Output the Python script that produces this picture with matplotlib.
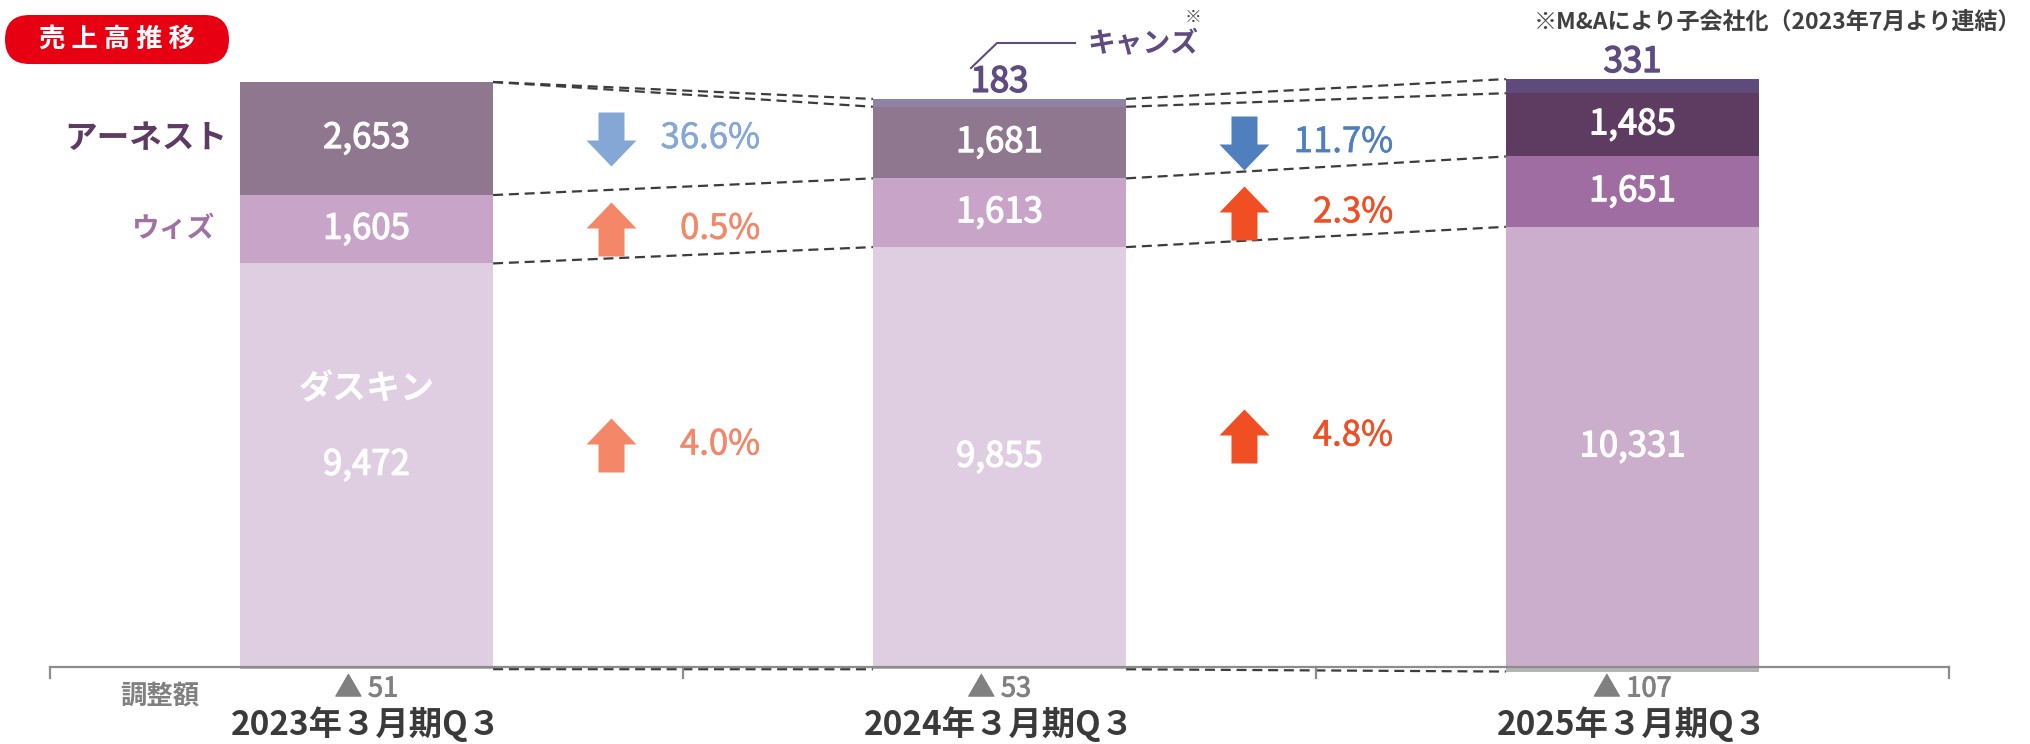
import numpy as np
import matplotlib
matplotlib.use("Agg")
import matplotlib.pyplot as plt
import matplotlib.patheffects as pe
from matplotlib.path import Path
from matplotlib.patches import FancyBboxPatch

plt.rcParams['font.family'] = ['Noto Sans CJK JP', 'DejaVu Sans']

# data
periods = ['2023年３月期Q３', '2024年３月期Q３', '2025年３月期Q３']
duskin = [9472, 9855, 10331]
wiz = [1605, 1613, 1651]
arnest = [2653, 1681, 1485]
canz = [0, 183, 331]
adjust = [-51, -53, -107]
adj_labels = ['▲ 51', '▲ 53', '▲ 107']

arnest_growth = ['36.6%', '11.7%']
wiz_growth = ['0.5%', '2.3%']
duskin_growth = ['4.0%', '4.8%']
arnest_dir = ['down', 'down']
wiz_dir = ['up', 'up']
duskin_dir = ['up', 'up']

# styles
duskin_col = ['#DFCEE2', '#DFCEE2', '#CBAECC']
wiz_col = ['#C8A5C8', '#C8A5C8', '#A06DA3']
arnest_col = ['#8E778F', '#8E778F', '#5E3C62']
canz_col = ['#8E82A5', '#8E82A5', '#5F4A7C']
adj_col = '#B3B3B3'
down_col = ['#84A7D5', '#4F80BD']
up_col = ['#F48768', '#F04E23']

W, H = 2031, 744
fig = plt.figure(figsize=(W / 100, H / 100), dpi=100)
ax = fig.add_axes([0, 0, 1, 1])
unit = 633.0
ax.set_xlim(-0.5 - 50 / unit, 2.5 + (W - 1949) / unit)
ppu = 585.0 / 13730
ax.set_ylim(-(H - 667) / ppu, -(H - 667) / ppu + H / ppu)
ax.axis('off')


def px(x, y):
    # figure pixel (from top-left) -> inches for dpi_scale_trans
    return x / 100, (H - y) / 100


def medium(c, w=0.9):
    # regular face thickened a little, close to a medium weight
    return [pe.withStroke(linewidth=w, foreground=c)]


x = np.arange(len(periods))
bw = 0.40
duskin = np.array(duskin)
wiz = np.array(wiz)
arnest = np.array(arnest)
canz = np.array(canz)
adjust = np.array(adjust)

ax.bar(x, adjust, bw, color=adj_col, zorder=2)
ax.bar(x, duskin, bw, color=duskin_col, zorder=2)
ax.bar(x, wiz, bw, bottom=duskin, color=wiz_col, zorder=2)
ax.bar(x, arnest, bw, bottom=duskin + wiz, color=arnest_col, zorder=2)
ax.bar(x, canz, bw, bottom=duskin + wiz + arnest, color=canz_col, zorder=2)

# baseline and boundary ticks
ax.plot([-0.5, 2.5], [0, 0], color='#8C8C8C', lw=1.6, zorder=3)
tick_len = 11 / ppu
for b in np.arange(-0.5, 3.0, 1.0):
    ax.plot([b, b], [0, -tick_len], color='#8C8C8C', lw=1.6, zorder=3)

# dashed connectors
levels = [adjust, duskin, duskin + wiz, duskin + wiz + arnest, duskin + wiz + arnest + canz]
for i in range(len(periods) - 1):
    for lv in levels:
        ax.plot([i + bw / 2, i + 1 - bw / 2], [lv[i], lv[i + 1]], color='#3C3C3C',
                lw=1.6, dashes=(4.5, 2.6), zorder=1)

# value labels in bars
num_kw = dict(ha='center', va='center', color='white', fontsize=25, zorder=4,
              path_effects=medium('white'))
for i in range(len(periods)):
    ax.text(x[i], duskin[i] / 2, f'{duskin[i]:,}', **num_kw)
    ax.text(x[i], duskin[i] + wiz[i] / 2, f'{wiz[i]:,}', **num_kw)
    ax.text(x[i], duskin[i] + wiz[i] + arnest[i] / 2, f'{arnest[i]:,}', **num_kw)
    if canz[i] > 0:
        top = duskin[i] + wiz[i] + arnest[i] + canz[i]
        ax.annotate(f'{canz[i]:,}', (x[i], top), xytext=(0, 12), textcoords='offset points',
                    ha='center', va='center', color='#5F4B80', fontsize=25,
                    path_effects=medium('#5F4B80', 1.1))
    ax.text(x[i], -22 / ppu, adj_labels[i], ha='center', va='center', color='#808080', fontsize=19.5,
            path_effects=medium('#808080', 0.7))
    ax.text(x[i], -57 / ppu, periods[i], ha='center', va='center', color='#3A3A3A',
            fontsize=24, fontweight='bold')

ax.text(x[0], duskin[0] / 2 + 1800, 'ダスキン', ha='center', va='center', color='white',
        fontsize=24.5, fontweight='bold')

# segment names on the left
ax.text(-0.5 + 177 / unit, duskin[0] + wiz[0] + arnest[0] / 2, 'アーネスト', ha='right', va='center',
        color='#5E3B62', fontsize=23.5, fontweight='bold')
ax.text(-0.5 + 165 / unit, duskin[0] + wiz[0] / 2, 'ウィズ', ha='right', va='center',
        color='#9F71A5', fontsize=20, fontweight='bold')
fig.text(*px(160, 696), '調整額', transform=fig.dpi_scale_trans, ha='center', va='center',
         color='#808080', fontsize=19, fontweight='bold')

# arrows
arrow_up = Path([(-0.26, -0.54), (0.26, -0.54), (0.26, 0.02), (0.5, 0.02), (0, 0.54),
                 (-0.5, 0.02), (-0.26, 0.02), (-0.26, -0.54)], closed=True)
arrow_down = Path([(-0.26, 0.54), (0.26, 0.54), (0.26, -0.02), (0.5, -0.02), (0, -0.54),
                   (-0.5, -0.02), (-0.26, -0.02), (-0.26, 0.54)], closed=True)
msize = 54 * 72 / 100

for i in range(len(periods) - 1):
    rows = [
        (duskin[i] + wiz[i] + arnest[i] / 2, arnest_growth[i], arnest_dir[i]),
        (duskin[i] + wiz[i] / 2, wiz_growth[i], wiz_dir[i]),
        (duskin[i] * 0.55, duskin_growth[i], duskin_dir[i]),
    ]
    for yv, lab, d in rows:
        col = up_col[i] if d == 'up' else down_col[i]
        mk = arrow_up if d == 'up' else arrow_down
        ax.plot([i + 0.387], [yv], marker=mk, markersize=msize, color=col,
                markeredgewidth=0, linestyle='none')
        ax.text(i + 0.622, yv, lab, ha='right', va='center', color=col, fontsize=25,
                path_effects=medium(col, 0.4))

# title badge
badge = FancyBboxPatch(px(5, 64), 2.24, 0.49, boxstyle='round,pad=0,rounding_size=0.245',
                       transform=fig.dpi_scale_trans, facecolor='#E60012', edgecolor='none')
fig.patches.append(badge)
fig.text(*px(117, 39), '売 上 高 推 移', transform=fig.dpi_scale_trans, ha='center', va='center',
         color='white', fontsize=19, fontweight='bold')

# note and キャンズ callout
fig.text(*px(2021, 22), '※M&Aにより子会社化（2023年7月より連結）', transform=fig.dpi_scale_trans,
         ha='right', va='center', color='#404040', fontsize=16.6, fontweight='bold')
fig.text(*px(1143, 44), 'キャンズ', transform=fig.dpi_scale_trans, ha='center', va='center',
         color='#5F4B80', fontsize=20, fontweight='bold')
fig.text(*px(1193, 17), '※', transform=fig.dpi_scale_trans, ha='center', va='center',
         color='#404040', fontsize=12)
lx, ly = zip(px(971, 68), px(997, 43), px(1075, 43))
fig.add_artist(plt.Line2D(lx, ly, transform=fig.dpi_scale_trans, color='#5F4B80', lw=1.5))

fig.savefig('out.png', dpi=100)
